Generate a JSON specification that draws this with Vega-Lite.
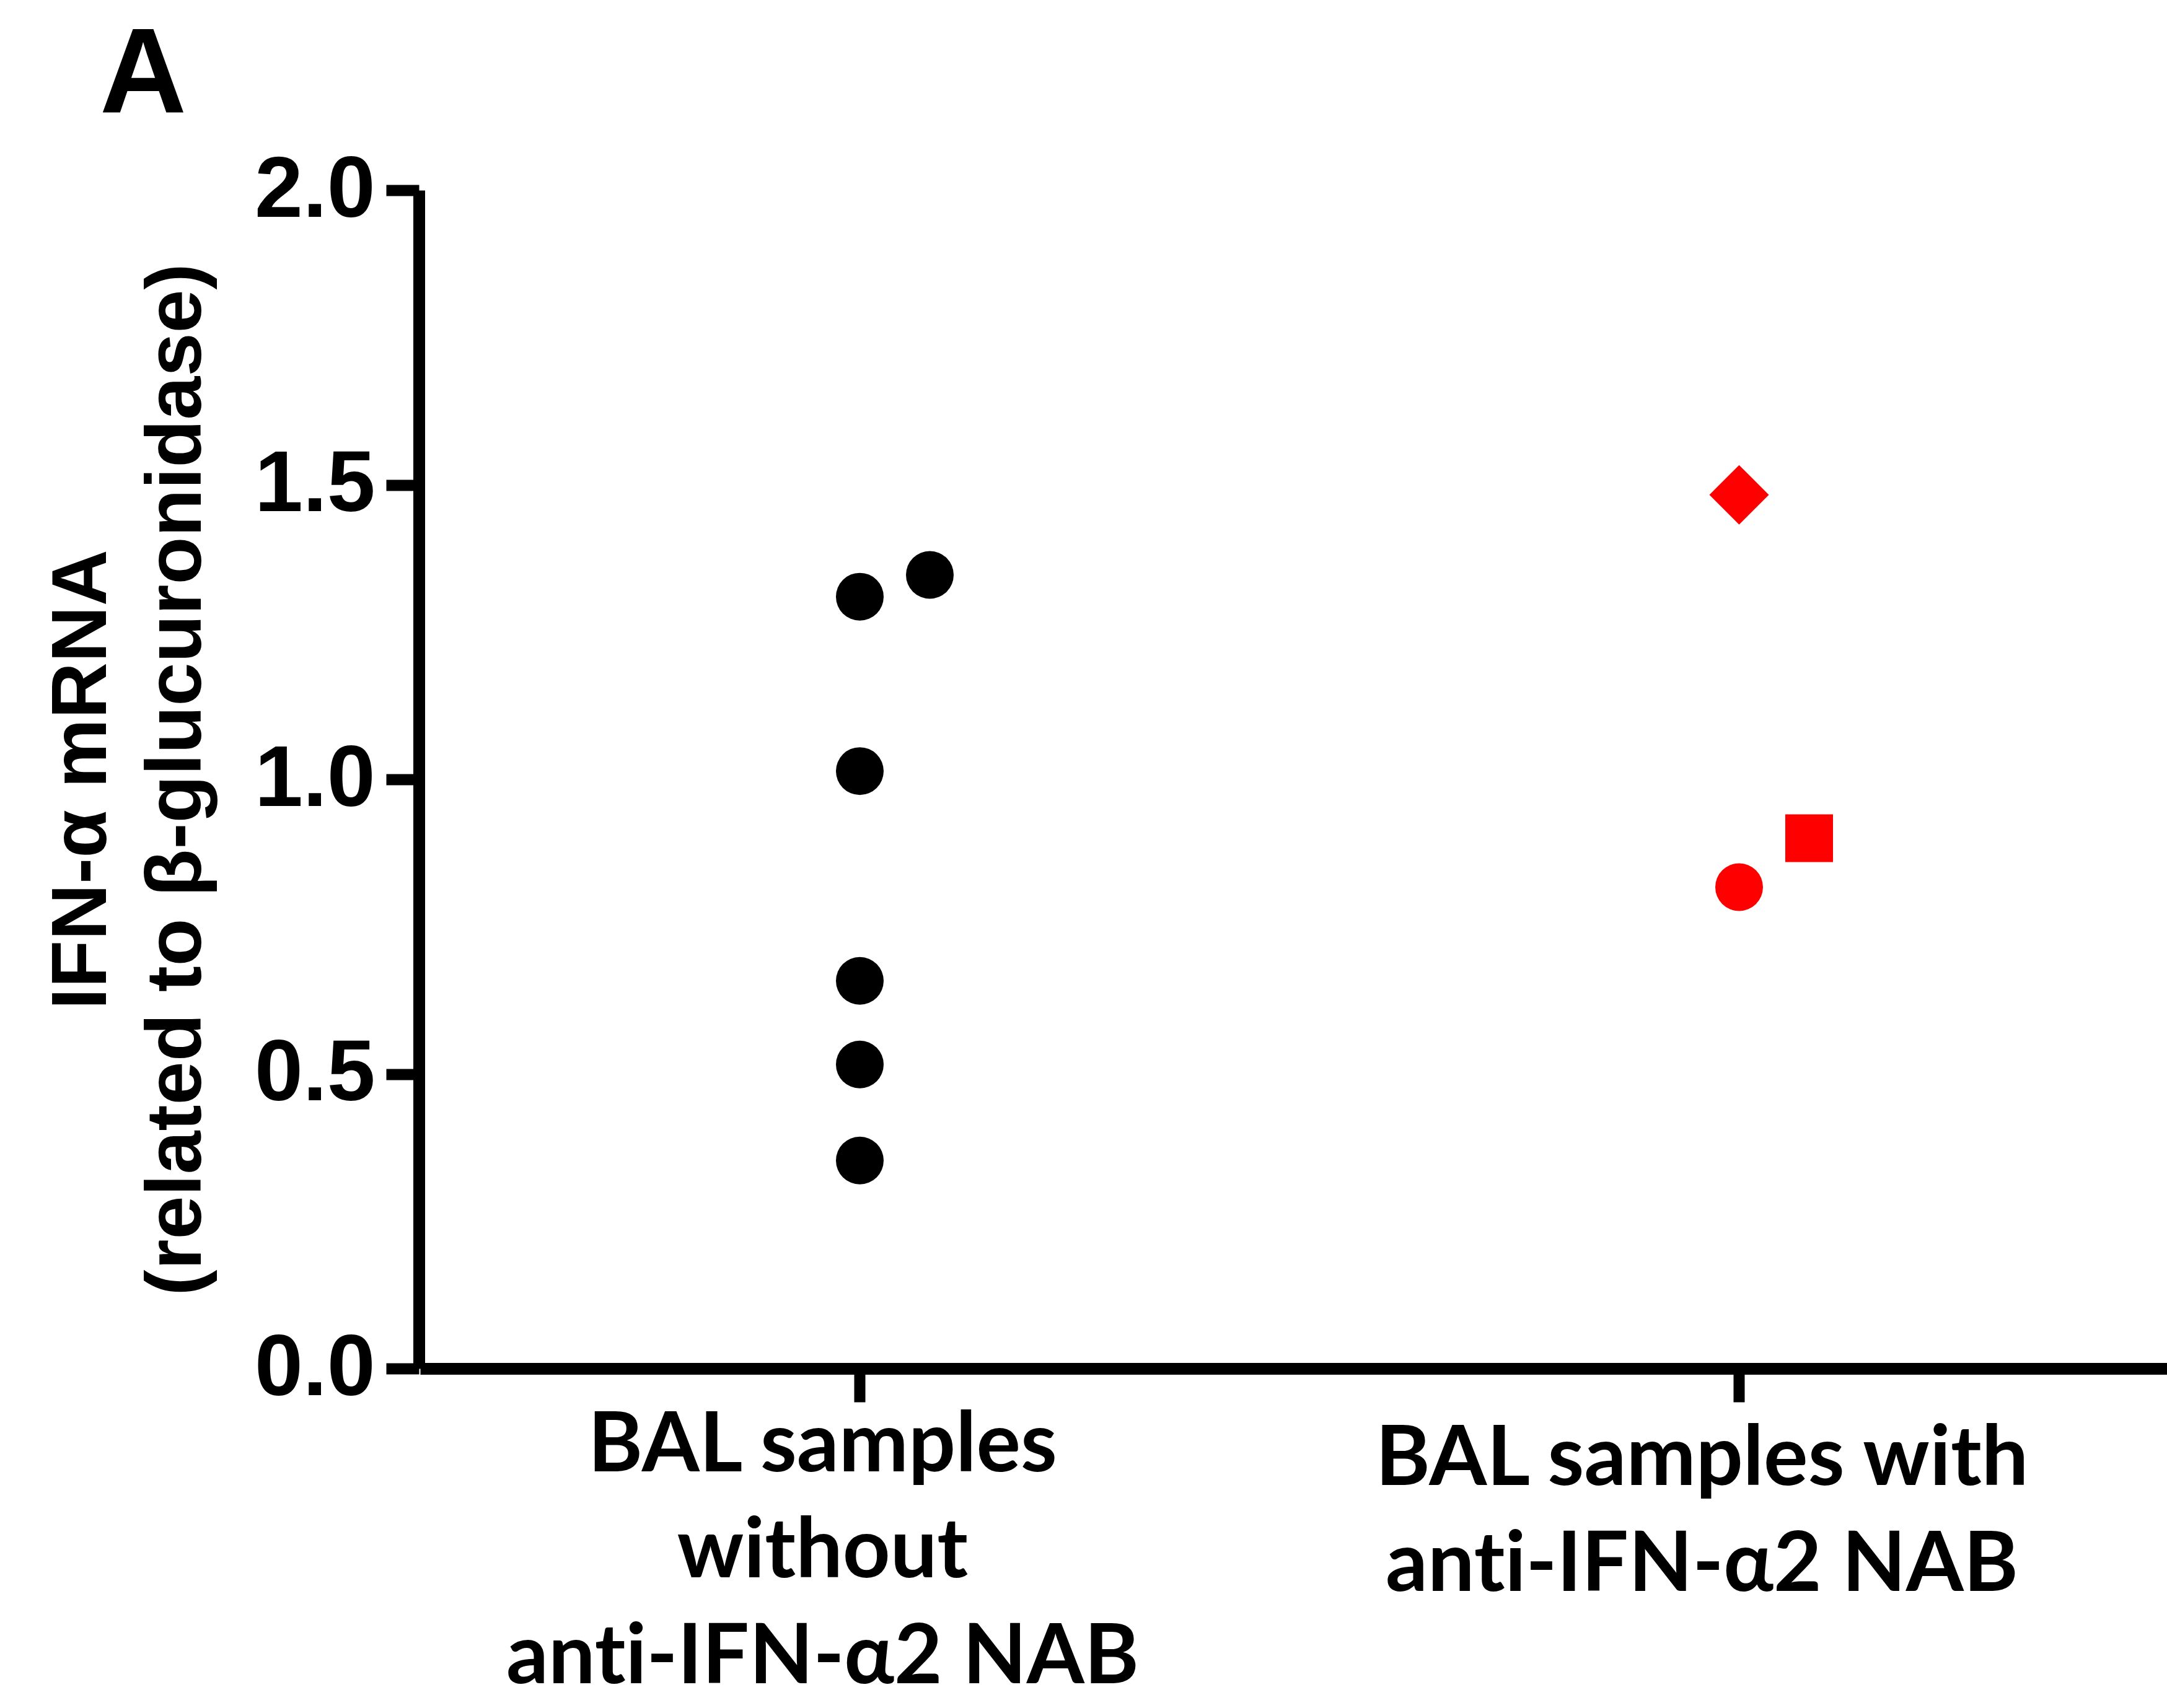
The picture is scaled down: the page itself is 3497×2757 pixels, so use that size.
{
  "$schema": "https://vega.github.io/schema/vega-lite/v6.json",
  "autosize": "none",
  "width": 2821,
  "height": 1902,
  "padding": {"left": 676, "top": 307, "right": 0, "bottom": 548},
  "background": "white",
  "config": {"view": {"stroke": null}},
  "title": {
    "text": "A",
    "anchor": "start",
    "frame": "group",
    "font": "Liberation Sans",
    "fontSize": 194,
    "fontWeight": "bold",
    "color": "black",
    "dx": -515,
    "dy": 138,
    "baseline": "alphabetic",
    "offset": 0
  },
  "data": {
    "values": [
      {"group": "without", "lane": "1", "patient": "ctrl", "value": 1.310},
      {"group": "without", "lane": "2", "patient": "ctrl", "value": 1.347},
      {"group": "without", "lane": "1", "patient": "ctrl", "value": 1.014},
      {"group": "without", "lane": "1", "patient": "ctrl", "value": 0.658},
      {"group": "without", "lane": "1", "patient": "ctrl", "value": 0.516},
      {"group": "without", "lane": "1", "patient": "ctrl", "value": 0.353},
      {"group": "with", "lane": "1", "patient": "P1", "value": 0.817},
      {"group": "with", "lane": "2", "patient": "P2", "value": 0.900},
      {"group": "with", "lane": "1", "patient": "P3", "value": 1.483}
    ]
  },
  "mark": {"type": "point", "filled": true, "opacity": 1, "strokeWidth": 0},
  "encoding": {
    "x": {
      "field": "group",
      "type": "nominal",
      "sort": ["without", "with"],
      "bandPosition": 0,
      "scale": {"type": "band", "range": [2, 2840], "paddingInner": 0, "paddingOuter": 0},
      "axis": {
        "title": null,
        "domainWidth": 19,
        "domainColor": "black",
        "tickWidth": 18,
        "tickSize": 54,
        "tickColor": "black",
        "labelFont": "Lato",
        "labelFontWeight": "bold",
        "labelFontSize": 134,
        "labelLineHeight": 171,
        "labelOffset": -60,
        "labelPadding": {"condition": {"test": "datum.value == 'with'", "value": 27}, "value": 5},
        "labelAngle": 0,
        "labelLimit": 0,
        "labelColor": "black",
        "labelOverlap": false,
        "labelExpr": "datum.value == 'without' ? ['BAL samples', 'without', 'ant\u200ci-IFN-α2 NAB'] : ['BAL samples with', 'ant\u200ci-IFN-α2 NAB']"
      }
    },
    "xOffset": {
      "field": "lane",
      "type": "nominal",
      "scale": {"type": "point", "domain": ["1", "2"], "range": [709.5, 822.5], "padding": 0}
    },
    "y": {
      "field": "value",
      "type": "quantitative",
      "scale": {"domain": [0, 2], "nice": false, "zero": true},
      "axis": {
        "values": [0, 0.5, 1, 1.5, 2],
        "format": ".1f",
        "grid": false,
        "domainWidth": 19,
        "domainColor": "black",
        "tickWidth": 18,
        "tickSize": 53,
        "tickColor": "black",
        "labelFont": "Liberation Sans",
        "labelFontWeight": "bold",
        "labelFontSize": 140,
        "labelPadding": 18,
        "labelColor": "black",
        "labelLimit": 0,
        "title": ["IFN-α mRNA", "(related to β-glucuronidase)"],
        "titleFont": "Liberation Sans",
        "titleFontWeight": "bold",
        "titleFontSize": 126,
        "titleLineHeight": 153,
        "titlePadding": 127,
        "titleColor": "black",
        "titleLimit": 0
      }
    },
    "color": {
      "field": "group",
      "type": "nominal",
      "scale": {"domain": ["without", "with"], "range": ["#000000", "#ff0000"]},
      "legend": null
    },
    "shape": {
      "field": "patient",
      "type": "nominal",
      "scale": {"domain": ["ctrl", "P1", "P2", "P3"], "range": ["circle", "circle", "square", "diamond"]},
      "legend": null
    },
    "size": {
      "field": "patient",
      "type": "nominal",
      "scale": {"type": "ordinal", "domain": ["ctrl", "P1", "P2", "P3"], "range": [5929, 5929, 5929, 9216]},
      "legend": null
    }
  }
}
